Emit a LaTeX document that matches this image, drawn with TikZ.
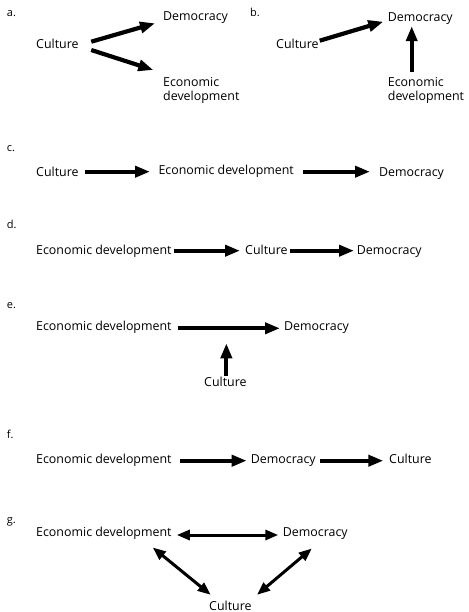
\documentclass[tikz,border=0pt]{standalone}
\usepackage{fontspec}
\setmainfont{Open Sans}
\usetikzlibrary{arrows.meta,calc}
\begin{document}
\begin{tikzpicture}[x=1pt,y=-1pt,
  lbl/.style={inner sep=0pt,anchor=base west,text height=11pt,text depth=3pt,font=\fontsize{12.4}{14.5}\selectfont},
  lbltwo/.style={inner sep=0pt,anchor=north west,align=left,font=\fontsize{12.4}{14.4}\selectfont},
  tag/.style={inner sep=0pt,anchor=base west,font=\fontsize{11}{13}\selectfont},
  arr/.style={line width=4.2pt,-{Triangle[length=15pt,width=11pt]}},
  darr/.style={line width=3pt,{Triangle[length=13pt,width=10pt]}-{Triangle[length=13pt,width=10pt]}}]
\useasboundingbox (0,0) rectangle (468,612);
% a
\node[tag] (ta) at (6.7,16.7) {a.};
\node[lbl] (cA) at (36,48.3) {Culture};
\node[lbl] (dA) at (163,20.7) {Democracy};
\node[lbltwo] (eA) at (163,76.8) {Economic\\development};
\draw[arr] ($(cA.east)+(12.5,-2.6)$) -- ($(dA.west)+(-8,6.6)$);
\draw[arr] ($(cA.east)+(12.5,5.7)$) -- ($(eA.north west)+(-9.7,-6.8)$);
% b
\node[tag] (tb) at (250,16.7) {b.};
\node[lbl] (cB) at (276,48.3) {Culture};
\node[lbl] (dB) at (387.7,21.7) {Democracy};
\node[lbltwo] (eB) at (387.7,76.8) {Economic\\development};
\draw[arr] ($(cB.east)+(1,-3.6)$) -- ($(dB.west)+(-4.4,4)$);
\draw[arr] ($(eB.north west)+(24,-5)$) -- ($(dB.south west)+(24,1.3)$);
% c
\node[tag] (tc) at (6.7,151.7) {c.};
\node[lbl] (cC) at (36,176.7) {Culture};
\node[lbl] (eC) at (158.3,174.3) {Economic development};
\node[lbl] (dC) at (379,176.7) {Democracy};
\draw[arr] ($(cC.east)+(6,-1)$) -- ($(eC.west)+(-8.3,1.4)$);
\draw[arr] ($(eC.east)+(9,1.4)$) -- ($(dC.west)+(-9,-1)$);
% d
\node[tag] (td) at (6.7,228) {d.};
\node[lbl] (eD) at (36,254.7) {Economic development};
\node[lbl] (cD) at (245,254.7) {Culture};
\node[lbl] (dD) at (356.7,254.7) {Democracy};
\draw[arr] ($(eD.east)+(2,0)$) -- ($(cD.west)+(-5,0)$);
\draw[arr] ($(cD.east)+(2,0)$) -- ($(dD.west)+(-2.7,0)$);
% e
\node[tag] (te) at (6.7,308) {e.};
\node[lbl] (eE) at (36,330.7) {Economic development};
\node[lbl] (dE) at (284,330.7) {Democracy};
\node[lbl] (cE) at (204,386.7) {Culture};
\coordinate (eMid) at ($(cE.north |- dE.west)+(1,16.6)$);
\draw[arr] ($(eE.east)+(6.7,1.6)$) -- ($(dE.west)+(-4,1.6)$);
\draw[arr] ($(cE.north)+(1,0)$) -- (eMid);
% f
\node[tag] (tf) at (6.7,438) {f.};
\node[lbl] (eF) at (36,463) {Economic development};
\node[lbl] (dF) at (250.7,463) {Democracy};
\node[lbl] (cF) at (389,463) {Culture};
\draw[arr] ($(eF.east)+(8.7,1.7)$) -- ($(dF.west)+(-4,1.7)$);
\draw[arr] ($(dF.east)+(4.3,1.7)$) -- ($(cF.west)+(-5.7,1.7)$);
% g
\node[tag] (tg) at (6.7,523.3) {g.};
\node[lbl] (eG) at (36,536.7) {Economic development};
\node[lbl] (dG) at (282.7,536.7) {Democracy};
\node[lbl] (cG) at (209,610) {Culture};
\draw[darr] ($(eG.east)+(5,2.3)$) -- ($(dG.west)+(-4.4,2.3)$);
\draw[darr] ($(eG.south east)+(-19,7.6)$) -- ($(cG.north west)+(1.7,-4)$);
\draw[darr] ($(dG.south)+(-3.5,8.6)$) -- ($(cG.north east)+(5.3,-4)$);
\end{tikzpicture}
\end{document}
